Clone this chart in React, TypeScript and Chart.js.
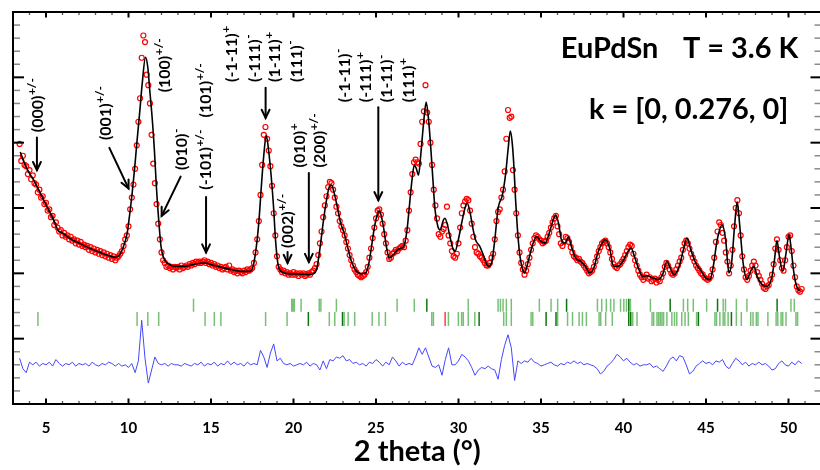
import React, { useEffect, useRef } from 'react';
import { Chart, registerables } from 'chart.js';

Chart.register(...registerables);

// ---------------- DATA ----------------
// observed intensity, uniform 2theta grid
const obsStart = 3.4;
const obsStep = 0.1;
const obsY = [
  19.9, 18.6, 19.0, 18.3, 18.2, 17.6, 17.9, 17.2, 17.5, 16.9,
  16.8, 16.2, 16.4, 15.8, 15.9, 15.3, 15.4, 14.8, 14.9, 14.3,
  14.4, 13.7, 13.9, 13.5, 13.2, 13.3, 12.9, 13.1, 12.8, 12.9,
  12.6, 12.8, 12.5, 12.6, 12.3, 12.5, 12.2, 12.4, 12.1, 12.2,
  12.0, 12.1, 11.8, 12.0, 11.7, 11.9, 11.6, 11.8, 11.5, 11.7,
  11.4, 11.6, 11.3, 11.5, 11.2, 11.4, 11.1, 11.3, 11.0, 11.2,
  11.3, 11.5, 11.7, 12.1, 12.6, 12.9, 13.6, 14.9, 15.8, 16.8,
  18.0, 19.8, 21.6, 23.4, 26.5, 28.2, 27.7, 25.2, 24.4, 23.0,
  20.6, 18.4, 16.9, 15.3, 13.8, 12.6, 11.6, 11.0, 10.8, 10.5,
  10.6, 10.4, 10.5, 10.3, 10.5, 10.4, 10.5, 10.3, 10.6, 10.4,
  10.5, 10.6, 10.5, 10.7, 10.6, 10.8, 10.7, 10.9, 10.8, 10.9,
  10.8, 10.9, 11.0, 10.8, 10.9, 10.7, 10.8, 10.6, 10.7, 10.5,
  10.6, 10.4, 10.5, 10.3, 10.4, 10.5, 10.3, 10.6, 10.2, 10.3,
  10.1, 10.2, 10.0, 10.2, 10.1, 10.0, 10.2, 10.1, 10.3, 10.2,
  10.3, 10.4, 10.8, 11.6, 12.6, 14.0, 16.0, 18.3, 20.6, 21.2,
  20.3, 19.4, 18.2, 16.7, 14.6, 12.9, 11.3, 10.5, 10.3, 10.1,
  10.2, 10.0, 10.1, 9.9, 10.0, 9.9, 10.1, 9.9, 10.0, 9.8,
  10.0, 9.9, 10.0, 9.8, 9.9, 10.0, 9.9, 10.1, 10.2, 10.4,
  10.7, 11.4, 12.3, 13.2, 14.3, 15.2, 15.9, 16.6, 17.0, 16.9,
  16.4, 15.8, 15.1, 14.6, 14.0, 13.6, 13.3, 12.9, 12.4, 11.9,
  11.4, 11.0, 10.6, 10.3, 10.1, 9.9, 9.8, 9.7, 9.8, 9.9,
  10.1, 10.5, 11.2, 11.9, 12.7, 13.5, 14.2, 14.8, 14.9, 14.5,
  13.8, 13.0, 12.3, 11.6, 11.1, 11.2, 11.5, 11.6, 11.8, 11.7,
  11.9, 12.0, 12.1, 12.0, 12.5, 13.3, 14.8, 16.2, 17.6, 18.5,
  18.7, 18.5, 18.4, 19.9, 21.6, 22.4, 24.4, 22.3, 21.6, 20.0,
  18.3, 16.4, 15.2, 14.2, 13.0, 12.8, 13.2, 13.4, 13.7, 15.1,
  12.9, 12.3, 11.7, 11.3, 11.2, 11.5, 12.3, 13.5, 14.6, 15.2,
  15.5, 15.7, 15.6, 14.8, 13.8, 12.8, 12.0, 11.6, 11.5, 11.3,
  11.2, 11.0, 10.8, 10.6, 10.6, 10.8, 11.2, 11.5, 12.6, 14.0,
  14.7, 14.9, 15.8, 16.4, 17.8, 20.3, 22.5, 21.9, 22.0, 17.9,
  16.4, 14.6, 12.9, 11.6, 10.8, 10.3, 9.9, 10.2, 10.7, 11.2,
  11.8, 12.3, 12.7, 12.9, 12.8, 12.6, 12.5, 12.3, 12.4, 12.5,
  12.8, 13.1, 13.5, 13.9, 14.2, 14.4, 13.6, 13.0, 12.3, 12.1,
  12.4, 12.8, 12.7, 12.4, 12.0, 11.6, 11.3, 11.2, 11.0, 11.1,
  10.9, 10.8, 10.6, 10.4, 10.2, 10.0, 10.1, 10.2, 10.5, 10.9,
  11.3, 11.7, 12.0, 12.3, 12.4, 12.5, 12.3, 12.0, 11.6, 11.1,
  10.7, 10.5, 10.4, 10.6, 10.7, 10.9, 11.1, 11.4, 11.7, 12.0,
  12.2, 12.1, 11.5, 11.0, 10.6, 10.2, 9.9, 9.7, 9.5, 9.7,
  9.9, 9.6, 9.7, 9.4, 9.5, 9.6, 9.3, 9.5, 9.4, 9.7,
  10.0, 10.5, 10.8, 10.6, 10.3, 10.0, 9.9, 10.0, 10.3, 10.6,
  10.9, 11.2, 11.8, 12.3, 12.5, 12.3, 11.9, 11.5, 11.2, 10.9,
  10.6, 10.4, 10.2, 10.0, 9.9, 9.7, 9.6, 9.5, 9.6, 9.8,
  10.3, 11.2, 12.4, 13.2, 13.9, 13.7, 13.1, 12.5, 11.6, 10.9,
  10.0, 10.6, 11.8, 13.6, 15.0, 15.6, 14.6, 12.9, 11.3, 10.3,
  9.7, 9.5, 9.8, 10.2, 10.6, 10.9, 10.6, 10.1, 9.8, 9.5,
  9.2, 8.9, 8.8, 9.0, 9.1, 9.5, 9.9, 10.7, 11.9, 12.6,
  11.8, 11.0, 10.4, 10.2, 11.0, 12.0, 12.8, 12.9, 11.7, 10.6,
  9.7, 9.0, 8.7, 8.6, 8.8,
];

// calculated profile (2theta, intensity)
const calcX = [
  3.44, 3.7, 4.0, 4.31, 4.61, 4.91, 5.21, 5.51, 5.71, 6.01, 6.41, 7.01, 7.62, 8.22, 8.82, 9.22, 9.42, 9.62,
  9.92, 10.08, 10.22, 10.38, 10.52, 10.67, 10.83, 11.03, 11.17, 11.29, 11.43, 11.57, 11.69, 11.83, 11.97,
  12.13, 12.43, 12.84, 13.44, 14.04, 14.64, 15.04, 15.64, 16.24, 16.84, 17.35, 17.55, 17.75, 17.91, 18.05,
  18.19, 18.35, 18.49, 18.65, 18.79, 18.91, 19.05, 19.25, 19.66, 20.26, 20.86, 21.22, 21.42, 21.62, 21.82,
  22.0, 22.17, 22.3, 22.47, 22.67, 22.86, 23.07, 23.27, 23.51, 23.77, 24.07, 24.37, 24.57, 24.73, 24.91,
  25.07, 25.19, 25.33, 25.48, 25.63, 25.81, 26.04, 26.38, 26.68, 26.88, 27.04, 27.18, 27.32, 27.44, 27.58,
  27.72, 27.88, 28.04, 28.19, 28.33, 28.45, 28.58, 28.75, 28.88, 29.09, 29.18, 29.33, 29.48, 29.65, 29.79,
  29.99, 30.19, 30.39, 30.53, 30.69, 30.89, 31.03, 31.29, 31.5, 31.8, 32.0, 32.2, 32.4, 32.66, 32.86, 33.0,
  33.14, 33.26, 33.36, 33.46, 33.56, 33.7, 33.86, 34.0, 34.2, 34.46, 34.74, 35.0, 35.26, 35.5, 35.74, 35.9,
  36.06, 36.24, 36.46, 36.66, 36.84, 37.1, 37.4, 37.7, 37.94, 38.2, 38.44, 38.68, 38.92, 39.16, 39.4, 39.66,
  39.96, 40.22, 40.46, 40.66, 40.9, 41.16, 41.46, 41.77, 42.07, 42.37, 42.63, 42.83, 43.07, 43.37, 43.63,
  43.84, 44.08, 44.38, 44.68, 44.98, 45.24, 45.44, 45.68, 45.98, 46.19, 46.39, 46.55, 46.73, 46.89, 47.05,
  47.25, 47.49, 47.7, 47.9, 48.1, 48.4, 48.7, 49.0, 49.15, 49.3, 49.45, 49.65, 49.85, 50.03, 50.17, 50.3,
  50.46, 50.66,
];
const calcY = [
  19.29, 18.41, 17.65, 17.0, 16.25, 15.48, 14.72, 13.96, 13.33, 13.08, 12.7, 12.31, 11.93, 11.63, 11.35, 11.22, 11.35, 11.8,
  13.08, 14.6, 16.12, 18.15, 20.18, 22.2, 24.5, 26.53, 25.77, 23.99, 21.96, 19.42, 16.63, 14.09, 12.06,
  11.17, 10.72, 10.53, 10.53, 10.72, 10.79, 10.66, 10.46, 10.28, 10.15, 10.15, 10.53, 12.06, 14.09, 16.63,
  18.91, 20.56, 19.42, 17.39, 15.1, 12.57, 10.79, 10.15, 9.98, 9.95, 9.9, 9.98, 10.41, 12.06, 14.09,
  15.61, 16.63, 16.76, 16.12, 14.98, 13.84, 13.08, 12.06, 10.92, 10.23, 9.98, 10.03, 10.79, 12.06, 13.58,
  14.47, 14.78, 14.34, 13.33, 12.06, 11.17, 11.42, 11.86, 12.06, 13.33, 15.36, 17.14, 18.28, 18.03, 17.52,
  19.17, 21.45, 23.1, 21.71, 19.42, 17.14, 14.85, 13.58, 13.33, 14.09, 14.22, 13.71, 12.82, 11.93, 11.68,
  12.57, 13.84, 14.98, 15.36, 14.72, 13.33, 12.57, 12.06, 11.42, 10.53, 10.79, 12.57, 14.98, 15.99, 17.65, 19.42,
  20.89, 19.93, 18.15, 15.61, 13.58, 11.55, 10.41, 10.03, 10.79, 12.06, 12.82, 12.44, 12.31, 13.08, 14.09, 14.47,
  13.84, 12.57, 12.31, 12.77, 12.06, 11.17, 10.92, 10.53, 10.03, 10.41, 11.55, 12.26, 12.57, 11.93, 10.53, 10.53,
  10.92, 11.55, 11.93, 11.3, 10.41, 9.77, 9.82, 9.65, 9.52, 9.9, 10.92, 10.41, 9.9, 10.53, 11.8,
  12.7, 11.8, 10.79, 10.23, 9.65, 9.52, 10.53, 12.57, 13.71, 12.57, 10.03, 10.79, 13.58, 15.48, 13.58,
  10.79, 9.52, 10.15, 10.53, 9.77, 9.14, 9.01, 9.77, 11.04, 12.51, 11.3, 10.15, 11.55, 12.95, 11.8, 10.28,
  9.14, 8.63,
];

// difference curve (obs - calc, offset), uniform grid
const diffStart = 3.4;
const diffStep = 0.2;
const diffY = [
  3.5, 2.7, 2.4, 3.2, 3.0,
  3.2, 2.9, 3.1, 3.0, 3.2,
  2.9, 3.4, 3.1, 2.9, 3.1,
  3.0, 3.2, 2.9, 3.1, 3.0,
  3.1, 2.9, 3.2, 3.0, 2.9,
  3.1, 3.0, 3.2, 3.1, 2.9,
  3.1, 2.9, 3.0, 2.8, 3.1,
  2.4, 3.3, 6.4, 3.5, 1.6,
  2.6, 3.6, 3.1, 3.0, 3.1,
  2.9, 3.1, 3.0, 3.0, 2.9,
  3.1, 3.0, 2.9, 3.1, 3.0,
  3.2, 2.9, 3.1, 3.0, 3.2,
  2.9, 3.1, 3.0, 3.3, 3.0,
  3.2, 3.0, 3.1, 2.9, 3.2,
  3.0, 3.1, 3.0, 4.1, 3.6,
  2.8, 3.9, 4.6, 3.3, 3.5,
  3.1, 3.0, 3.1, 2.9, 3.0,
  3.1, 3.0, 3.2, 2.9, 3.1,
  3.0, 2.6, 3.3, 2.7, 3.4,
  3.3, 3.6, 3.5, 3.7, 3.3,
  3.4, 3.1, 3.2, 3.0, 3.1,
  2.9, 3.2, 3.1, 3.4, 3.2,
  2.9, 3.2, 3.0, 3.6, 3.3,
  2.9, 3.2, 3.0, 3.1, 3.0,
  3.6, 4.3, 3.8, 4.3, 3.6,
  2.9, 2.8, 3.0, 2.2, 3.4,
  4.3, 3.0, 3.0, 3.3, 3.8,
  3.6, 3.3, 2.8, 2.2, 2.6,
  2.8, 2.7, 2.9, 2.7, 2.6,
  1.9, 3.4, 4.5, 5.3, 4.3,
  1.8, 3.3, 3.1, 3.3, 3.2,
  3.5, 3.2, 3.1, 2.9, 3.0,
  3.1, 3.2, 3.0, 2.9, 3.1,
  3.0, 3.2, 3.1, 3.3, 3.1,
  3.2, 3.0, 3.1, 3.0, 2.9,
  2.7, 2.3, 2.5, 2.9, 3.1,
  3.4, 3.8, 3.6, 3.3, 3.5,
  3.2, 3.0, 3.1, 2.9, 3.0,
  3.0, 3.1, 2.8, 2.9, 2.7,
  2.5, 2.9, 3.4, 3.6, 3.3,
  3.7, 3.6, 3.0, 2.3, 2.5,
  2.9, 3.1, 3.3, 3.1, 3.2,
  3.0, 3.3, 3.2, 3.4, 2.9,
  2.7, 3.1, 3.5, 3.3, 3.0,
  3.2, 2.9, 3.1, 3.0, 3.2,
  3.0, 3.1, 2.9, 2.6, 2.7,
  3.1, 3.3, 3.0, 2.9, 3.2,
  3.0, 3.3, 3.1,
];

// Bragg reflection positions (2theta)
const braggRow1 = [
  13.94, 19.89, 19.97, 20.05, 20.46, 21.56, 21.66, 22.6, 26.28, 27.32, 28.08, 30.59, 32.4, 32.54, 32.7,
  32.9, 33.2, 34.9, 35.61, 36.01, 36.55, 38.42, 38.68, 38.96, 39.22, 39.42, 39.82, 40.02, 40.18, 40.32,
  40.42, 41.63, 42.83, 43.63, 43.89, 44.23, 45.04, 45.7, 46.04, 46.18, 46.84, 47.48, 49.31, 50.15, 50.35,
];
const braggRow2 = [
  4.51, 10.52, 11.17, 11.83, 14.64, 15.2, 15.6, 18.31, 19.61, 20.9, 22.17, 22.5, 22.97, 23.07, 23.31,
  23.71, 24.77, 25.18, 25.57, 28.38, 28.48, 29.39, 29.99, 30.19, 30.29, 30.59, 30.99, 31.25, 32.74,
  32.9, 33.2, 34.4, 34.5, 35.31, 35.91, 36.01, 36.61, 36.91, 37.31, 37.51, 37.75, 38.52, 38.62, 38.92,
  39.32, 40.32, 40.44, 40.56, 40.82, 41.73, 41.83, 42.03, 42.13, 42.23, 42.33, 42.43, 42.63, 42.93,
  43.09, 43.23, 43.53, 43.73, 43.93, 44.43, 44.54, 45.54, 45.64, 45.84, 46.04, 46.14, 46.34, 46.54,
  46.84, 47.14, 47.71, 47.85, 48.05, 48.15, 48.75, 49.25, 49.35, 49.55, 49.65, 49.85, 50.45, 50.55,
];
const braggRow2Red = [29.19];
const braggDark = [28.08, 36.55, 42.83, 45.7, 49.31, 20.9, 22.97, 31.25, 35.31, 35.91, 40.32, 40.44, 44.54, 46.54];

// axis ranges / tick labels
const xMin = 3;
const xMax = 52;
const xLabelEvery = 5;
const yMin = 0;
const yMax = 30;
const yMajorEvery = 5;
const braggRow1Level = 7.55;
const braggRow2Level = 6.5;

// reflection labels (anchor = bottom of rotated text, in data units)
const reflLabels = [
  { x: 4.52, y: 20.8, parts: [['(000)', '+/-']] },
  { x: 8.64, y: 20.2, parts: [['(001)', '+/-']] },
  { x: 12.21, y: 23.85, parts: [['(100)', '+/-']] },
  { x: 13.22, y: 17.9, parts: [['(010)', '-']] },
  { x: 14.68, y: 16.4, parts: [['(-101)', '+/-'], ['   (101)', '+/-']] },
  { x: 16.27, y: 24.65, parts: [['(-1-11)', '+']] },
  { x: 17.63, y: 24.65, parts: [['(-111)', '-']] },
  { x: 18.88, y: 24.65, parts: [['(1-11)', '+']] },
  { x: 20.18, y: 24.65, parts: [['(111)', '-']] },
  { x: 19.68, y: 11.94, parts: [['(002)', '+/-']] },
  { x: 20.38, y: 18.1, parts: [['(010)', '+']] },
  { x: 21.59, y: 18.1, parts: [['(200)', '+/-']] },
  { x: 23.09, y: 23.1, parts: [['(-1-11)', '-']] },
  { x: 24.39, y: 23.1, parts: [['(-111)', '+']] },
  { x: 25.66, y: 23.1, parts: [['(1-11)', '-']] },
  { x: 27.01, y: 23.1, parts: [['(111)', '+']] },
];
const arrows = [
  { x1: 4.45, y1: 20.4, x2: 4.45, y2: 17.9 },
  { x1: 8.84, y1: 19.6, x2: 10.0, y2: 16.5 },
  { x1: 13.16, y1: 17.4, x2: 12.01, y2: 14.4 },
  { x1: 14.7, y1: 15.85, x2: 14.7, y2: 11.6 },
  { x1: 18.31, y1: 24.2, x2: 18.31, y2: 21.9 },
  { x1: 19.64, y1: 11.63, x2: 19.64, y2: 10.8 },
  { x1: 20.93, y1: 17.67, x2: 20.93, y2: 10.87 },
  { x1: 25.14, y1: 22.72, x2: 25.14, y2: 15.6 },
];
const headerLine1Left = 'EuPdSn';
const headerLine1Right = 'T = 3.6 K';
const headerLine2 = 'k = [0, 0.276, 0]';

// ---------------- PLUGIN ----------------
const FONT = 'Lato';

const drawPlugin = {
  id: 'pdDecor',
  afterDatasetsDraw(chart: any) {
    const { ctx, scales } = chart;
    const xs = scales.x;
    const ys = scales.y;
    const X = (v: number) => xs.getPixelForValue(v);
    const Y = (v: number) => ys.getPixelForValue(v);
    ctx.save();
    // arrows
    ctx.strokeStyle = '#000';
    ctx.lineWidth = 2;
    ctx.lineCap = 'round';
    for (const ar of arrows) {
      const x1 = X(ar.x1), y1 = Y(ar.y1), x2 = X(ar.x2), y2 = Y(ar.y2);
      ctx.beginPath();
      ctx.moveTo(x1, y1);
      ctx.lineTo(x2, y2);
      ctx.stroke();
      const ang = Math.atan2(y2 - y1, x2 - x1);
      const hl = 9;
      const hw = 0.45;
      ctx.beginPath();
      ctx.moveTo(x2 - hl * Math.cos(ang - hw), y2 - hl * Math.sin(ang - hw));
      ctx.lineTo(x2, y2);
      ctx.lineTo(x2 - hl * Math.cos(ang + hw), y2 - hl * Math.sin(ang + hw));
      ctx.stroke();
    }
    // rotated reflection labels
    ctx.fillStyle = '#000';
    for (const lb of reflLabels) {
      ctx.save();
      ctx.translate(X(lb.x), Y(lb.y));
      ctx.rotate(-Math.PI / 2);
      ctx.textAlign = 'left';
      ctx.textBaseline = 'middle';
      let cx = 0;
      for (const [main, sup] of lb.parts) {
        ctx.font = `bold 16px ${FONT}`;
        ctx.fillText(main, cx, 0);
        cx += ctx.measureText(main).width;
        if (sup) {
          ctx.font = `bold 12px ${FONT}`;
          ctx.fillText(sup, cx + 0.5, -6);
          cx += ctx.measureText(sup).width + 1;
        }
      }
      ctx.restore();
    }
    // header text
    ctx.textBaseline = 'alphabetic';
    ctx.font = `bold 30px ${FONT}`;
    const wA = ctx.measureText(headerLine1Left).width;
    const wB = ctx.measureText(headerLine1Right).width;
    const wC = ctx.measureText(headerLine2).width;
    const size = (30 * (104 + 115 + 194)) / (wA + wB + wC);
    ctx.font = `bold ${size.toFixed(1)}px ${FONT}`;
    ctx.textAlign = 'left';
    ctx.fillText(headerLine1Left, X(36.2), Y(26.45));
    ctx.textAlign = 'right';
    ctx.fillText(headerLine1Right, X(50.59), Y(26.45));
    ctx.fillText(headerLine2, X(49.99), Y(21.84));
    ctx.restore();
  },
  afterDraw(chart: any) {
    const { ctx, chartArea: a, scales } = chart;
    const xs = scales.x;
    const ys = scales.y;
    ctx.save();
    const seg = (x1: number, y1: number, x2: number, y2: number) => {
      ctx.beginPath();
      ctx.moveTo(x1, y1);
      ctx.lineTo(x2, y2);
      ctx.stroke();
    };
    for (const t of xs.ticks) {
      const v = t.value;
      if (Math.abs(v - Math.round(v)) > 1e-6) continue;
      const major = Math.round(v) % xLabelEvery === 0;
      const px = xs.getPixelForValue(v);
      ctx.strokeStyle = major ? '#000' : '#555';
      ctx.lineWidth = major ? 2 : 1.3;
      const len = major ? 5.5 : 3;
      seg(px, a.bottom, px, a.bottom - len);
      seg(px, a.top, px, a.top + len);
    }
    for (let v = yMin; v <= yMax; v++) {
      const major = v % yMajorEvery === 0;
      const py = ys.getPixelForValue(v);
      ctx.strokeStyle = major ? '#000' : '#8a8a8a';
      ctx.lineWidth = major ? 2 : 1.5;
      const len = major ? 11 : 7;
      seg(a.left, py, a.left + len, py);
      seg(a.right, py, a.right - len, py);
    }
    ctx.strokeStyle = '#000';
    ctx.lineWidth = 2;
    ctx.strokeRect(a.left, a.top, a.right - a.left, a.bottom - a.top);
    ctx.restore();
  },
};

// ---------------- COMPONENT ----------------
export default function App() {
  const ref = useRef<HTMLCanvasElement | null>(null);

  useEffect(() => {
    if (!ref.current) return;
    const obsData = obsY.map((v, i) => ({ x: +(obsStart + i * obsStep).toFixed(2), y: v }));
    const calcData = calcX.map((v, i) => ({ x: v, y: calcY[i] }));
    const diffData = diffY.map((v, i) => ({ x: +(diffStart + i * diffStep).toFixed(2), y: v }));
    const b1 = braggRow1.map((v) => ({ x: v, y: braggRow1Level }));
    const b2 = braggRow2.map((v) => ({ x: v, y: braggRow2Level }));
    const b2r = braggRow2Red.map((v) => ({ x: v, y: braggRow2Level }));
    const light = 'rgba(30,150,30,0.6)';
    const dark = 'rgba(0,110,0,0.95)';
    const tickColor = (c: any) => (c.raw && braggDark.includes(c.raw.x) ? dark : light);

    const chart = new Chart(ref.current, {
      type: 'scatter',
      data: {
        datasets: [
          {
            type: 'line',
            label: 'calc',
            data: calcData,
            borderColor: '#000',
            borderWidth: 1.6,
            pointRadius: 0,
            cubicInterpolationMode: 'monotone',
            fill: false,
            order: 1,
          } as any,
          {
            type: 'scatter',
            label: 'obs',
            data: obsData,
            pointStyle: 'circle',
            pointRadius: 2.5,
            pointBorderWidth: 1.2,
            pointBorderColor: '#ff0000',
            borderColor: '#ff0000',
            pointBackgroundColor: 'rgba(0,0,0,0)',
            backgroundColor: 'rgba(0,0,0,0)',
            order: 2,
          } as any,
          {
            type: 'line',
            label: 'diff',
            data: diffData,
            borderColor: '#4646ff',
            borderWidth: 1,
            pointRadius: 0,
            fill: false,
            order: 3,
          } as any,
          {
            type: 'scatter',
            label: 'bragg1',
            data: b1,
            pointStyle: 'line',
            pointRotation: 90,
            pointRadius: 6.5,
            pointBorderWidth: 1.5,
            pointBorderColor: tickColor,
            borderColor: tickColor,
            order: 4,
          } as any,
          {
            type: 'scatter',
            label: 'bragg2',
            data: b2,
            pointStyle: 'line',
            pointRotation: 90,
            pointRadius: 7,
            pointBorderWidth: 1.5,
            pointBorderColor: tickColor,
            borderColor: tickColor,
            order: 5,
          } as any,
          {
            type: 'scatter',
            label: 'bragg2red',
            data: b2r,
            pointStyle: 'line',
            pointRotation: 90,
            pointRadius: 7,
            pointBorderWidth: 1.5,
            pointBorderColor: 'rgba(255,40,40,0.9)',
            borderColor: 'rgba(255,40,40,0.9)',
            order: 4,
          } as any,
        ],
      },
      options: {
        responsive: false,
        animation: false,
        devicePixelRatio: 1,
        layout: { padding: { left: 13, top: 12, right: 3, bottom: 0 } },
        plugins: { legend: { display: false }, tooltip: { enabled: false } },
        events: [],
        scales: {
          x: {
            type: 'linear',
            min: xMin,
            max: xMax,
            grid: { display: false },
            border: { display: false },
            ticks: {
              stepSize: 1,
              autoSkip: false,
              maxRotation: 0,
              padding: 7,
              color: '#000',
              font: { family: FONT, weight: 'bold', size: 15 },
              callback: (v: any) => (Number(v) % xLabelEvery === 0 ? String(v) : ''),
            },
            title: {
              display: true,
              text: '2 theta (°)',
              color: '#000',
              font: { family: FONT, weight: 'bold', size: 29 },
              padding: { top: 0, bottom: 1 },
            },
            afterFit: (s: any) => {
              s.height = 66;
            },
          },
          y: {
            type: 'linear',
            min: yMin,
            max: yMax,
            display: false,
          },
        },
      } as any,
      plugins: [drawPlugin],
    });
    return () => chart.destroy();
  }, []);

  return (
    <div
      style={{
        position: 'fixed',
        left: 0,
        top: 0,
        width: 820,
        height: 470,
        overflow: 'hidden',
        background: '#fff',
      }}
    >
      <canvas ref={ref} width={830} height={470} style={{ display: 'block', width: 830, height: 470 }} />
    </div>
  );
}
